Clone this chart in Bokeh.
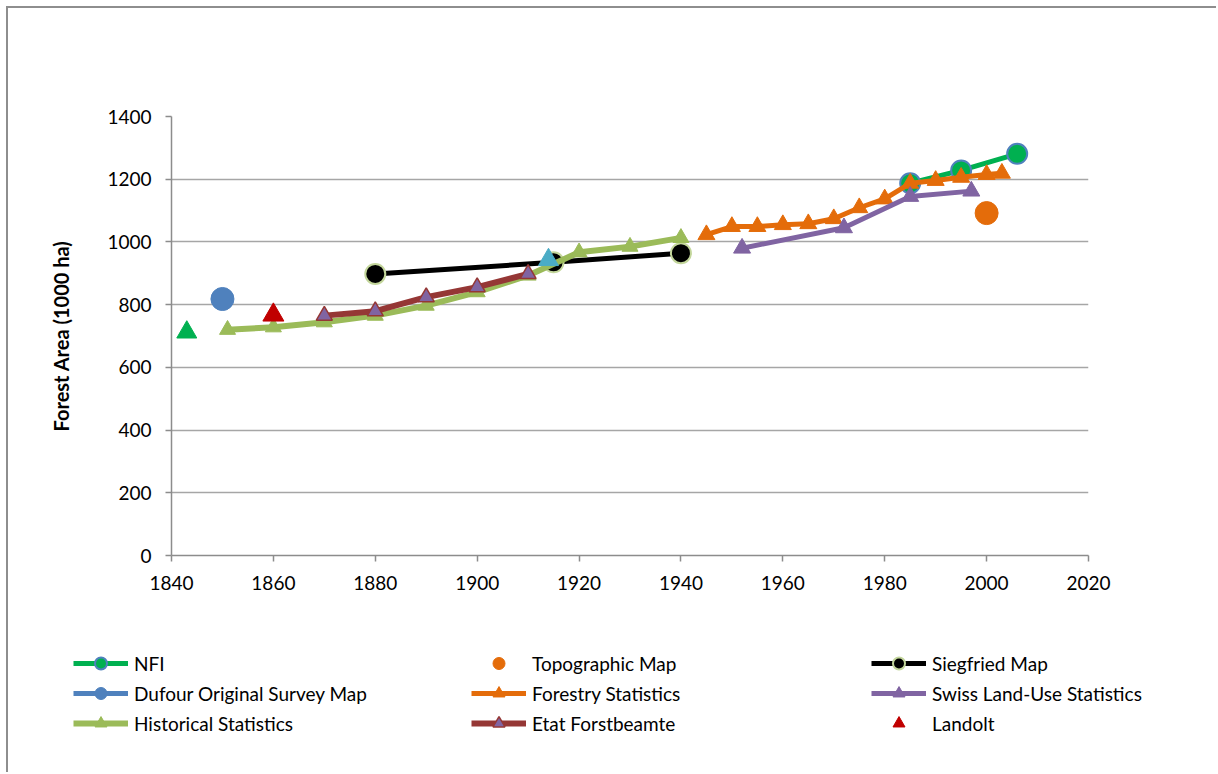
from bokeh.plotting import figure
from bokeh.models import Legend, LegendItem, FixedTicker, Range1d
from bokeh.embed import file_html
from bokeh.resources import INLINE

# ---------------- data ----------------
nfi_years = [1985, 1995, 2006]
nfi_values = [1187, 1228, 1281]

topo_years = [2000]
topo_values = [1092]

siegfried_years = [1880, 1915, 1940]
siegfried_values = [898, 935, 964]

dufour_years = [1850]
dufour_values = [818]

forestry_years = [1945, 1950, 1955, 1960, 1965, 1970, 1975, 1980, 1985, 1990, 1995, 2000, 2003]
forestry_values = [1023, 1049, 1049, 1055, 1058, 1074, 1109, 1137, 1187, 1196, 1206, 1215, 1219]

landuse_years = [1952, 1972, 1985, 1997]
landuse_values = [980, 1045, 1145, 1162]

historical_years = [1851, 1860, 1870, 1880, 1890, 1900, 1910, 1920, 1930, 1940]
historical_values = [720, 728, 744, 765, 797, 840, 893, 967, 985, 1013]

etat_years = [1870, 1880, 1890, 1900, 1910]
etat_values = [765, 779, 824, 856, 898]

landolt_years = [1860]
landolt_values = [767]

extra_green_years = [1843]
extra_green_values = [712]

extra_cyan_years = [1914]
extra_cyan_values = [943]

x_ticks = [1840, 1860, 1880, 1900, 1920, 1940, 1960, 1980, 2000, 2020]
y_ticks = [0, 200, 400, 600, 800, 1000, 1200, 1400]

FONT = "Lato"
GRID = "#A6A6A6"
AXIS = "#8C8C8C"

GREEN = "#00B050"
BLUE = "#4F81BD"
ORANGE = "#E46C0A"
PURPLE = "#8064A2"
LGREEN = "#9BBB59"
BROWN = "#953735"
RED = "#C00000"
CYAN = "#4BACC6"

# style of each series: (line kwargs or None, marker kwargs or None)
STYLES = {
    "nfi": (dict(line_color=GREEN, line_width=5),
            dict(marker="circle", size=20, fill_color=GREEN, line_color=BLUE, line_width=2)),
    "topo": (None, dict(marker="circle", size=23, fill_color=ORANGE, line_color=ORANGE, line_width=1)),
    "sieg": (dict(line_color="black", line_width=5),
             dict(marker="circle", size=20, fill_color="black", line_color="#C3D69B", line_width=2)),
    "duf": (dict(line_color=BLUE, line_width=5),
            dict(marker="circle", size=23, fill_color=BLUE, line_color=BLUE, line_width=1)),
    "for": (dict(line_color=ORANGE, line_width=5),
            dict(marker="triangle", size=17, fill_color=ORANGE, line_color=ORANGE, line_width=1)),
    "lu": (dict(line_color=PURPLE, line_width=5),
           dict(marker="triangle", size=17, fill_color=PURPLE, line_color=PURPLE, line_width=1)),
    "his": (dict(line_color=LGREEN, line_width=6),
            dict(marker="triangle", size=16, fill_color=LGREEN, line_color=LGREEN, line_width=1)),
    "et": (dict(line_color=BROWN, line_width=6),
           dict(marker="triangle", size=16, fill_color=PURPLE, line_color=BROWN, line_width=1.5)),
    "lan": (None, dict(marker="triangle", size=21, fill_color=RED, line_color=RED, line_width=1)),
}

# ---------------- main chart ----------------
p = figure(width=1210, height=607, output_backend="svg", toolbar_location=None,
           x_range=Range1d(1840, 2020), y_range=Range1d(0, 1400),
           min_border_left=163, min_border_right=130, min_border_top=108, min_border_bottom=60)
p.styles = {"margin-left": "6px", "margin-top": "6px",
            "border-left": "2px solid #8E8E8E", "border-top": "2px solid #8E8E8E"}
p.outline_line_color = None
p.background_fill_color = "white"
p.border_fill_color = "white"

p.xgrid.visible = False
p.ygrid.grid_line_color = GRID
p.ygrid.grid_line_width = 1.5
p.ygrid.ticker = FixedTicker(ticks=y_ticks)

for ax in (p.xaxis[0], p.yaxis[0]):
    ax.axis_line_color = AXIS
    ax.axis_line_width = 1.5
    ax.major_tick_line_color = AXIS
    ax.major_tick_line_width = 1.5
    ax.major_tick_out = 6
    ax.major_tick_in = 0
    ax.minor_tick_line_color = None
    ax.major_label_text_font = FONT
    ax.major_label_text_font_size = "19px"
    ax.major_label_text_color = "#000000"
p.xaxis.ticker = FixedTicker(ticks=x_ticks)
p.yaxis.ticker = FixedTicker(ticks=y_ticks)
p.xaxis.major_label_standoff = 14
p.yaxis.major_label_standoff = 14
p.yaxis.axis_label = "Forest Area (1000 ha)"
p.yaxis.axis_label_text_font = FONT
p.yaxis.axis_label_text_font_style = "bold"
p.yaxis.axis_label_text_font_size = "20px"
p.yaxis.axis_label_text_color = "#000000"
p.yaxis.axis_label_standoff = 31


def series(fig, key, xs, ys, visible=True):
    lk, mk = STYLES[key]
    rs = []
    if lk:
        rs.append(fig.line(xs, ys, visible=visible, **lk))
    if mk:
        rs.append(fig.scatter(xs, ys, visible=visible, **mk))
    return rs

series(p, "nfi", nfi_years, nfi_values)
series(p, "topo", topo_years, topo_values)
series(p, "sieg", siegfried_years, siegfried_values)
series(p, "duf", dufour_years, dufour_values)
series(p, "for", forestry_years, forestry_values)
series(p, "lu", landuse_years, landuse_values)
series(p, "his", historical_years, historical_values)
series(p, "et", etat_years, etat_values)
series(p, "lan", landolt_years, landolt_values)
p.scatter(extra_green_years, extra_green_values, marker="triangle", size=20,
          fill_color=GREEN, line_color=GREEN, line_width=1)
p.scatter(extra_cyan_years, extra_cyan_values, marker="triangle", size=20,
          fill_color=CYAN, line_color=CYAN, line_width=1)

# ---------------- legend strip (separate root, full-width frame) ----------------
q = figure(width=1210, height=159, output_backend="svg", toolbar_location=None,
           x_range=Range1d(0, 1210), y_range=Range1d(0, 159),
           min_border=0, x_axis_location=None, y_axis_location=None)
q.styles = {"margin-left": "6px", "border-left": "2px solid #8E8E8E"}
q.outline_line_color = None
q.grid.visible = False
q.background_fill_color = "white"
q.border_fill_color = "white"

series_data = {
    "nfi": (nfi_years, nfi_values), "duf": (dufour_years, dufour_values),
    "his": (historical_years, historical_values), "topo": (topo_years, topo_values),
    "for": (forestry_years, forestry_values), "et": (etat_years, etat_values),
    "sieg": (siegfried_years, siegfried_values), "lu": (landuse_years, landuse_values),
    "lan": (landolt_years, landolt_values),
}
legend_cols = [
    [("NFI", "nfi"), ("Dufour Original Survey Map", "duf"), ("Historical Statistics", "his")],
    [("Topographic Map", "topo"), ("Forestry Statistics", "for"), ("Etat Forstbeamte", "et")],
    [("Siegfried Map", "sieg"), ("Swiss Land-Use Statistics", "lu"), ("Landolt", "lan")],
]
col_x = [65, 463, 863]

for cx, col in zip(col_x, legend_cols):
    items = [LegendItem(label=lab, renderers=series(q, key, *series_data[key], visible=False))
             for lab, key in col]
    lg = Legend(items=items, location=(cx, 34), orientation="vertical",
                glyph_width=55, glyph_height=30, spacing=0, padding=0, margin=0,
                label_standoff=6, label_text_font=FONT, label_text_font_size="19px",
                label_text_color="#000000", label_height=30,
                border_line_color=None, background_fill_alpha=0)
    q.add_layout(lg, "center")

open("out.html", "w").write(file_html([p, q], INLINE))
